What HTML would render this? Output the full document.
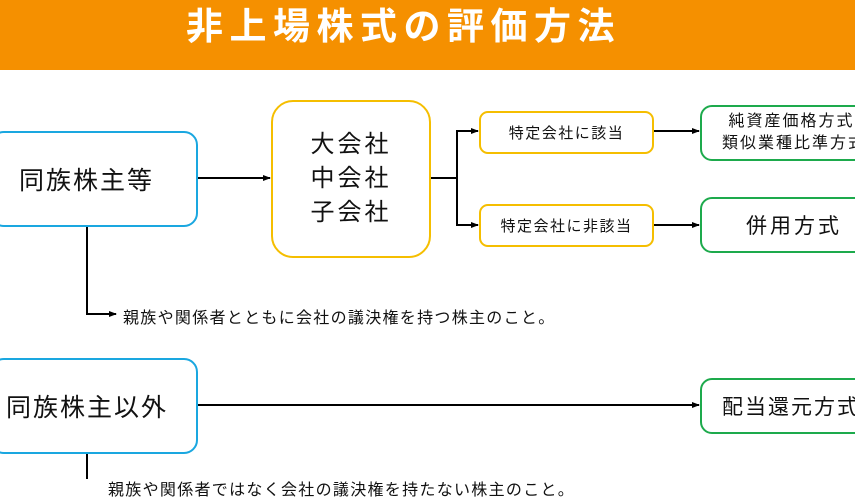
<!DOCTYPE html>
<html><head><meta charset="utf-8"><style>
body{margin:0;width:855px;height:479px;overflow:hidden;background:#fff;position:relative;font-family:"Liberation Sans","Noto Sans CJK JP",sans-serif;color:#111}
.b{position:absolute;box-sizing:border-box;display:flex;align-items:center;justify-content:center;text-align:center;white-space:nowrap}
.blue{border:2px solid #1AA7E0;border-radius:14px}
.yel{border:2px solid #F5BE00}
.grn{border:2px solid #1DAA4C;border-radius:12px}
.t{position:absolute;white-space:nowrap}
</style></head><body>
<div style="position:absolute;left:0;top:0;width:855px;height:70px;background:#F59000"></div>
<div class="t" style="left:186px;top:-4px;font-size:37px;font-weight:bold;color:#fff;letter-spacing:6.5px">非上場株式の評価方法</div>

<div class="b blue" style="left:-10px;top:131px;width:208px;height:96px;font-size:25px;letter-spacing:2px;justify-content:flex-start;padding-left:27px">同族株主等</div>
<div class="b yel" style="left:271px;top:100px;width:160px;height:158px;border-radius:22px;font-size:24px;line-height:34px;letter-spacing:3px">大会社<br>中会社<br>子会社</div>
<div class="b yel" style="left:479px;top:111px;width:175px;height:43px;border-radius:9px;font-size:15px;letter-spacing:1.5px">特定会社に該当</div>
<div class="b yel" style="left:479px;top:204px;width:175px;height:43px;border-radius:9px;font-size:15px;letter-spacing:1.5px">特定会社に非該当</div>
<div class="b grn" style="left:700px;top:105px;width:175px;height:56px;font-size:16px;line-height:22px;letter-spacing:2px;justify-content:flex-start;padding-left:20px;text-align:left"><span>&nbsp;純資産価格方式<br>類似業種比準方式</span></div>
<div class="b grn" style="left:700px;top:197px;width:175px;height:56px;font-size:21px;letter-spacing:3px;justify-content:flex-start;padding-left:44px">併用方式</div>
<div class="b blue" style="left:-10px;top:358px;width:208px;height:96px;font-size:25px;letter-spacing:2px;justify-content:flex-start;padding-left:14px">同族株主以外</div>
<div class="b grn" style="left:700px;top:378px;width:175px;height:56px;font-size:21px;letter-spacing:2px;justify-content:flex-start;padding-left:20px">配当還元方式</div>

<div class="t" style="left:123px;top:304px;font-size:16px;letter-spacing:1.3px">親族や関係者とともに会社の議決権を持つ株主のこと。</div>
<div class="t" style="left:108px;top:476px;font-size:16px;letter-spacing:1.3px">親族や関係者ではなく会社の議決権を持たない株主のこと。</div>

<svg width="855" height="479" style="position:absolute;left:0;top:0" fill="none" stroke="#000" stroke-width="2">
<defs><marker id="a" markerWidth="8" markerHeight="8" refX="7" refY="4" orient="auto" markerUnits="userSpaceOnUse"><path d="M0,1 L8,4 L0,7z" fill="#000" stroke="none"/></marker></defs>
<path d="M198,178 H270" marker-end="url(#a)"/>
<path d="M431,178 H457 M457,131 V225"/>
<path d="M456,131 H478" marker-end="url(#a)"/>
<path d="M456,225 H478" marker-end="url(#a)"/>
<path d="M654,131 H699" marker-end="url(#a)"/>
<path d="M654,225 H699" marker-end="url(#a)"/>
<path d="M87,227 V314 H116" marker-end="url(#a)"/>
<path d="M198,405 H699" marker-end="url(#a)"/>
<path d="M87,454 V479"/>
</svg>
</body></html>
